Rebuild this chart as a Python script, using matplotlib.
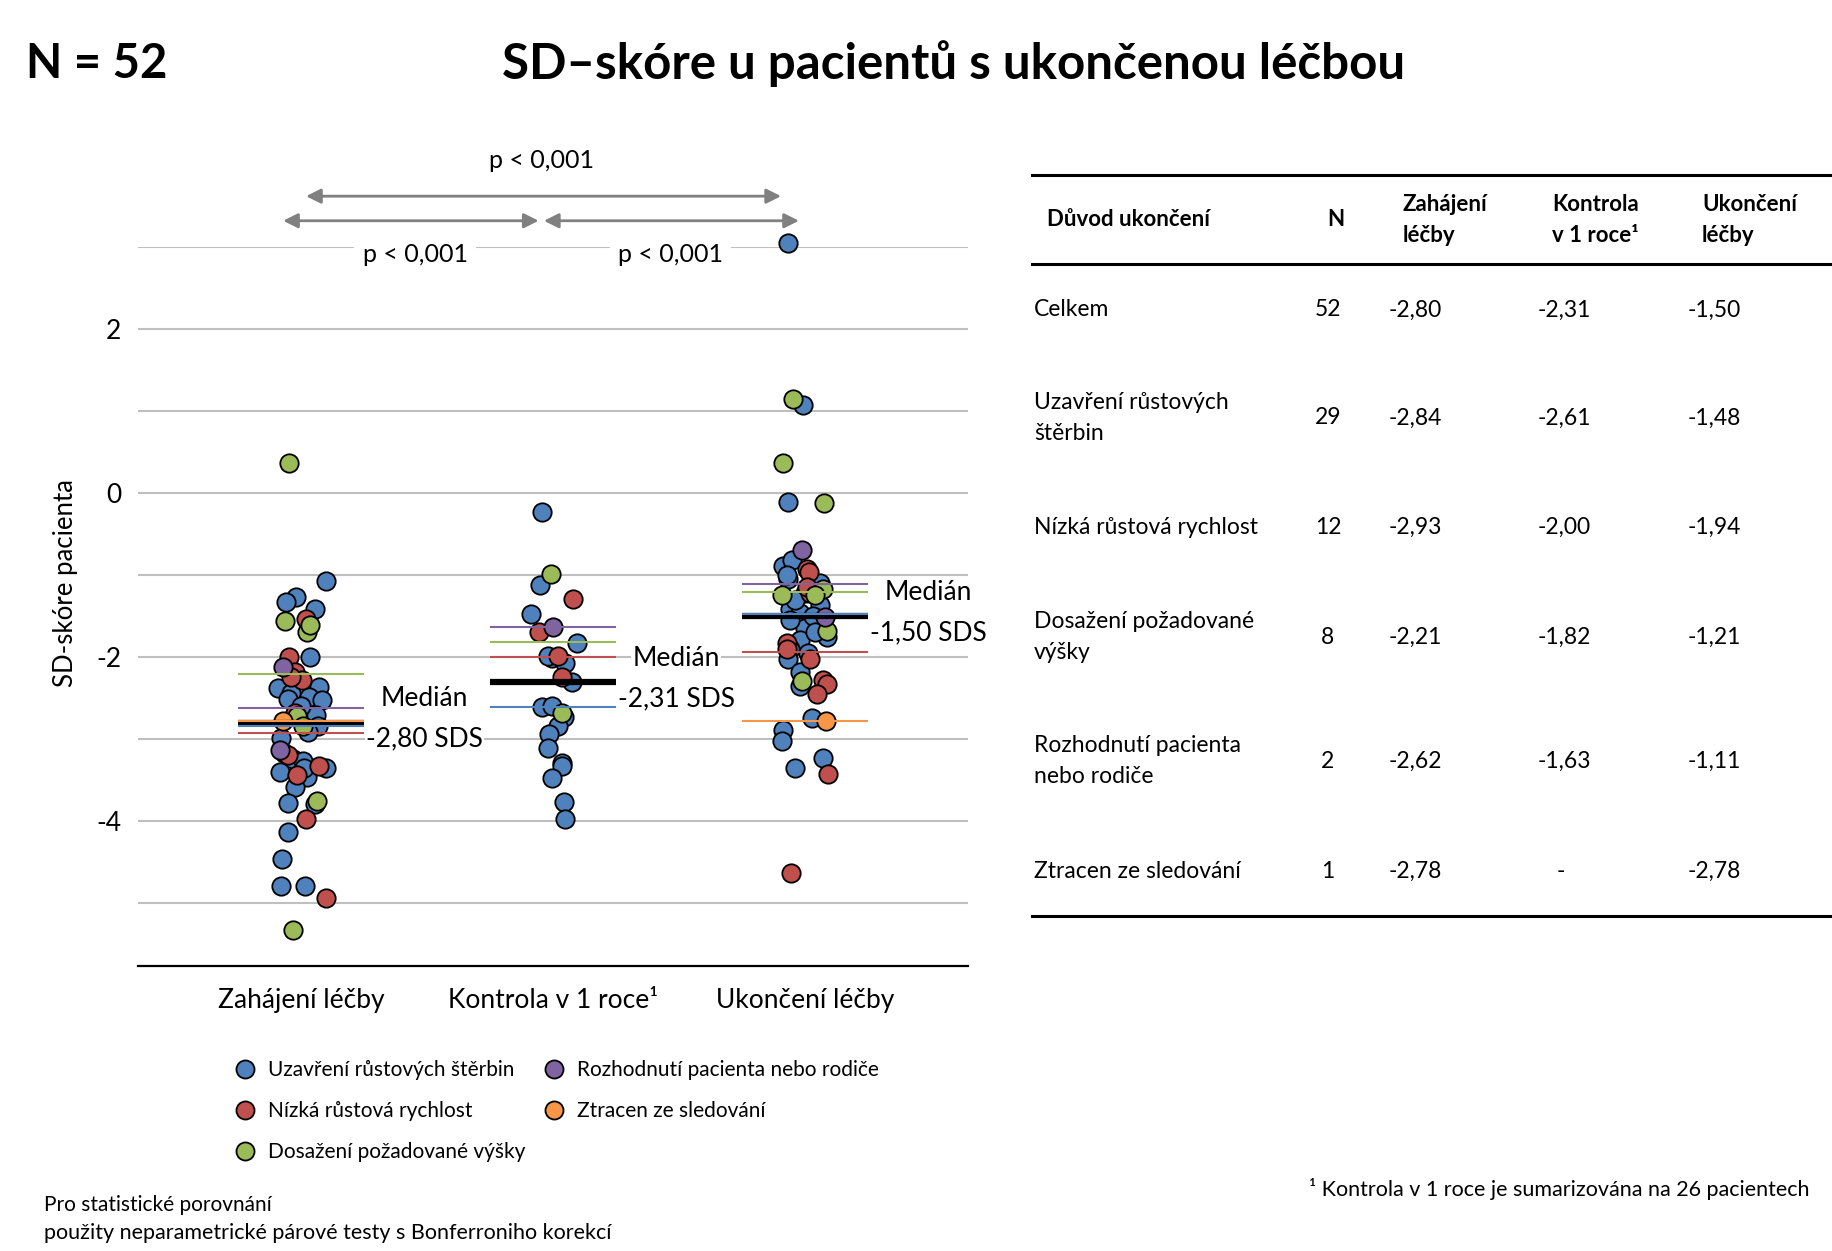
import matplotlib
matplotlib.use("Agg")
import matplotlib.pyplot as plt
from matplotlib.lines import Line2D
import numpy as np

plt.rcParams['font.family'] = ['Lato', 'DejaVu Sans']

# ---------------- data ----------------
timepoints = ["Zahájení léčby", "Kontrola v 1 roce¹", "Ukončení léčby"]
reasons = ["Uzavření růstových štěrbin", "Nízká růstová rychlost",
           "Dosažení požadované výšky", "Rozhodnutí pacienta nebo rodiče",
           "Ztracen ze sledování"]
reason_codes = ["U", "N", "D", "R", "Z"]
colors = ["#4F81BD", "#C0504D", "#9BBB59", "#8064A2", "#F79646"]

# start of treatment: values, group, horizontal jitter (category units)
start_vals = [0.365, -1.08, -1.27, -1.325, -1.41, -1.535, -1.556, -1.69, -1.615, -2.005,
              -2.005, -2.12, -2.19, -2.28, -2.38, -2.44, -2.37, -2.49, -2.52, -2.51,
              -2.78, -2.68, -2.72, -2.71, -2.84, -2.84, -2.91, -2.99, -3.14, -3.17,
              -3.24, -3.27, -3.40, -3.44, -3.47, -3.33, -3.36, -3.35, -3.59, -3.79,
              -3.76, -3.78, -3.98, -4.14, -4.47, -4.79, -4.80, -4.94, -5.33, -2.60,
              -2.25, -3.20]
start_grp = ["D", "U", "U", "U", "U", "N", "D", "D", "D", "N",
             "U", "R", "N", "N", "U", "U", "U", "U", "U", "U",
             "Z", "N", "D", "U", "D", "U", "U", "U", "R", "N",
             "U", "U", "U", "N", "U", "N", "U", "U", "U", "U",
             "D", "U", "N", "U", "U", "U", "U", "N", "D", "U",
             "N", "N"]
start_jit = [-0.049, 0.098, -0.020, -0.060, 0.056, 0.020, -0.063, 0.022, 0.036, -0.046,
             0.036, -0.073, -0.024, 0.003, -0.090, -0.040, 0.073, 0.033, 0.082, -0.050,
             -0.073, -0.024, -0.017, 0.060, 0.007, 0.069, 0.029, -0.080, -0.083, -0.067,
             -0.030, 0.009, -0.083, -0.017, 0.022, 0.071, 0.100, 0.012, -0.024, 0.056,
             0.065, -0.053, 0.020, -0.053, -0.077, -0.079, 0.017, 0.100, -0.033, 0.000,
             -0.040, -0.050]

# control after 1 year
year1_vals = [-0.228, -0.987, -1.12, -1.29, -1.478, -1.70, -1.63, -1.83, -2.01, -1.99,
              -2.07, -2.24, -2.31, -2.61, -2.60, -2.68, -2.73, -2.84, -2.94, -3.11,
              -3.29, -3.33, -3.475, -3.77, -3.98, -1.99]
year1_grp = ["U", "D", "U", "N", "U", "N", "R", "U", "U", "N",
             "U", "N", "U", "U", "U", "D", "U", "U", "U", "U",
             "U", "U", "U", "U", "U", "U"]
year1_jit = [-0.044, -0.008, -0.052, 0.078, -0.087, -0.054, -0.001, 0.095, -0.005, 0.021,
             0.048, 0.036, 0.075, -0.044, -0.005, 0.036, 0.045, 0.021, -0.015, -0.019,
             0.035, 0.036, -0.005, 0.042, 0.049, -0.020]

# end of treatment
end_vals = [3.05, 1.149, 1.078, 0.371, -0.112, -0.118, -0.70, -0.89, -0.82, -0.93,
            -0.97, -1.05, -1.17, -1.22, -1.24, -1.22, -1.37, -1.41, -1.46, -1.515,
            -1.65, -1.68, -1.76, -1.83, -1.79, -1.90, -1.95, -2.03, -2.03, -2.19,
            -2.29, -2.36, -2.28, -2.33, -2.455, -2.75, -2.78, -2.89, -3.02, -3.23,
            -3.36, -3.43, -4.63, -1.00, -1.30, -1.50, -1.55, -1.10, -1.70, -1.15,
            -1.90, -1.25]
end_grp = ["U", "D", "U", "D", "U", "D", "R", "U", "U", "N",
           "N", "U", "D", "N", "D", "U", "U", "U", "U", "R",
           "U", "D", "U", "N", "U", "U", "U", "N", "U", "U",
           "D", "U", "N", "N", "N", "U", "Z", "U", "U", "U",
           "U", "N", "N", "U", "U", "U", "U", "U", "U", "N",
           "N", "D"]
end_jit = [-0.069, -0.049, -0.007, -0.086, -0.066, 0.075, -0.013, -0.089, -0.053, 0.009,
           0.017, -0.066, 0.073, 0.020, -0.092, 0.000, 0.060, -0.060, -0.020, 0.079,
           0.000, 0.089, 0.087, -0.073, -0.020, -0.060, 0.013, 0.020, -0.066, -0.020,
           -0.013, -0.020, 0.073, 0.087, 0.049, 0.026, 0.083, -0.089, -0.092, 0.070,
           -0.040, 0.092, -0.057, -0.070, -0.040, 0.030, -0.060, 0.060, 0.040, 0.010,
           -0.070, 0.040]

# medians (table)
median_total = [-2.80, -2.31, -1.50]
median_U = [-2.84, -2.61, -1.48]
median_N = [-2.93, -2.00, -1.94]
median_D = [-2.21, -1.82, -1.21]
median_R = [-2.62, -1.63, -1.11]
median_Z = [-2.78, None, -2.78]
group_n = [52, 29, 12, 8, 2, 1]

table_rows = ["Celkem", "Uzavření růstových\nštěrbin", "Nízká růstová rychlost",
              "Dosažení požadované\nvýšky", "Rozhodnutí pacienta\nnebo rodiče",
              "Ztracen ze sledování"]
p_labels = ["p < 0,001", "p < 0,001", "p < 0,001"]

# ---------------- figure ----------------
W, H = 1833, 1251
fig = plt.figure(figsize=(W / 100, H / 100), dpi=100)
fx = lambda px: px / W
fy = lambda py: 1 - py / H

ax = fig.add_axes([fx(138), fy(966), (968 - 138) / W, (966 - 247) / H])
ax.set_xlim(-0.647, 2.647)
ax.set_ylim(-5.77, 3.0)
for g in range(-5, 4):
    ax.axhline(g, color="#BFBFBF", lw=1.5, zorder=0)
for s in ["top", "right", "left"]:
    ax.spines[s].set_visible(False)
ax.spines["bottom"].set_linewidth(1.6)
ax.spines["bottom"].set_zorder(5)
ax.set_yticks([-4, -2, 0, 2])
ax.set_yticklabels(["-4", "-2", "0", "2"])
ax.set_xticks([0, 1, 2])
ax.set_xticklabels(timepoints)
ax.tick_params(axis="y", length=0, pad=12, labelsize=19)
ax.tick_params(axis="x", length=0, pad=16, labelsize=19)

series = [(start_vals, start_grp, start_jit),
          (year1_vals, year1_grp, year1_jit),
          (end_vals, end_grp, end_jit)]
for i, (vals, grp, jit) in enumerate(series):
    vals = np.array(vals); grp = np.array(grp); jit = np.array(jit)
    for code, col in zip(reason_codes, colors):
        m = grp == code
        if m.any():
            ax.scatter(i + jit[m], vals[m], s=175, c=col, edgecolors="black",
                       linewidths=1.3, zorder=3, clip_on=False)

hw = 0.25
for i in range(3):
    ax.hlines(median_total[i], i - hw, i + hw, color="black", lw=4.5, zorder=4)
for med, col in zip([median_U, median_N, median_D, median_R, median_Z], colors):
    for i, m in enumerate(med):
        if m is not None:
            ax.hlines(m, i - hw, i + hw, color=col, lw=1.5, zorder=4)

for i, m in enumerate(median_total):
    ax.text(i + 0.49, m + 0.29, "Medián", ha="center", va="center", fontsize=19,
            zorder=6, bbox=dict(facecolor="white", edgecolor="none", pad=1))
    ax.text(i + 0.49, m - 0.20, f"{m:.2f} SDS".replace(".", ","), ha="center",
            va="center", fontsize=19, zorder=6,
            bbox=dict(facecolor="white", edgecolor="none", pad=1))

# significance arrows
arr = dict(arrowstyle="<|-|>", color="#808080", lw=2, mutation_scale=22,
           shrinkA=0, shrinkB=0)
ax.annotate("", xy=(1.905, 3.62), xytext=(0.02, 3.62), arrowprops=arr,
            annotation_clip=False)
ax.annotate("", xy=(0.943, 3.32), xytext=(-0.071, 3.32), arrowprops=arr,
            annotation_clip=False)
ax.annotate("", xy=(1.976, 3.32), xytext=(0.964, 3.32), arrowprops=arr,
            annotation_clip=False)
ax.text(0.955, 4.06, p_labels[0], ha="center", va="center", fontsize=18, clip_on=False)
ax.text(0.453, 2.91, p_labels[1], ha="center", va="center", fontsize=18, clip_on=False,
        bbox=dict(facecolor="white", edgecolor="none", pad=6))
ax.text(1.467, 2.91, p_labels[2], ha="center", va="center", fontsize=18, clip_on=False,
        bbox=dict(facecolor="white", edgecolor="none", pad=6))

fig.text(fx(65), fy(583), "SD-skóre pacienta", rotation=90, ha="center", va="center",
         fontsize=18.5)

# titles
fig.text(fx(26), fy(64), "N = 52", ha="left", va="center", fontsize=34, fontweight="bold")
fig.text(fx(954), fy(64), "SD–skóre u pacientů s ukončenou léčbou", ha="center",
         va="center", fontsize=35.5, fontweight="bold")

# legend
handles = [Line2D([], [], marker="o", ls="none", markersize=13, markerfacecolor=c,
                  markeredgecolor="black", markeredgewidth=1.3) for c in colors]
fig.legend(handles, reasons, loc="upper left", bbox_to_anchor=(fx(222), fy(1050)),
           ncol=2, frameon=False, fontsize=15, handletextpad=0.5, columnspacing=0.8,
           labelspacing=1.0, borderpad=0, handlelength=1.2)

# footnotes
fig.text(fx(44), fy(1205), "Pro statistické porovnání", ha="left", va="center",
         fontsize=15)
fig.text(fx(44), fy(1233), "použity neparametrické párové testy s Bonferroniho korekcí",
         ha="left", va="center", fontsize=15.5)
fig.text(fx(1309), fy(1189), "¹ Kontrola v 1 roce je sumarizována na 26 pacientech",
         ha="left", va="center", fontsize=15.5)

# table
for yy in [175, 264, 916]:
    fig.add_artist(Line2D([fx(1032), fx(1833)], [fy(yy), fy(yy)], color="black", lw=2.2))
hdr_y = 220
fig.text(fx(1047), fy(hdr_y), "Důvod ukončení", ha="left", va="center", fontsize=16,
         fontweight="bold")
fig.text(fx(1336), fy(hdr_y), "N", ha="center", va="center", fontsize=16, fontweight="bold")
fig.text(fx(1403), fy(hdr_y), "Zahájení\nléčby", ha="left", va="center", fontsize=16,
         fontweight="bold", linespacing=1.55)
fig.text(fx(1552), fy(hdr_y), "Kontrola\nv 1 roce¹", ha="left", va="center", fontsize=16,
         fontweight="bold", linespacing=1.55)
fig.text(fx(1702), fy(hdr_y), "Ukončení\nléčby", ha="left", va="center", fontsize=16,
         fontweight="bold", linespacing=1.55)

row_y = [310, 418, 527, 637, 761, 871]
meds = [median_total, median_U, median_N, median_D, median_R, median_Z]
fmt = lambda v: "-" if v is None else f"{v:.2f}".replace(".", ",")
for r, yy in enumerate(row_y):
    fig.text(fx(1034), fy(yy), table_rows[r], ha="left", va="center", fontsize=16.5,
             linespacing=1.6)
    fig.text(fx(1328), fy(yy), str(group_n[r]), ha="center", va="center", fontsize=16.5)
    for c, xx in enumerate([1389, 1538, 1688]):
        v = meds[r][c]
        if v is None:
            fig.text(fx(1561), fy(yy), "-", ha="center", va="center", fontsize=16.5)
        else:
            fig.text(fx(xx), fy(yy), fmt(v), ha="left", va="center", fontsize=16.5)

fig.savefig("out.png", dpi=100)
